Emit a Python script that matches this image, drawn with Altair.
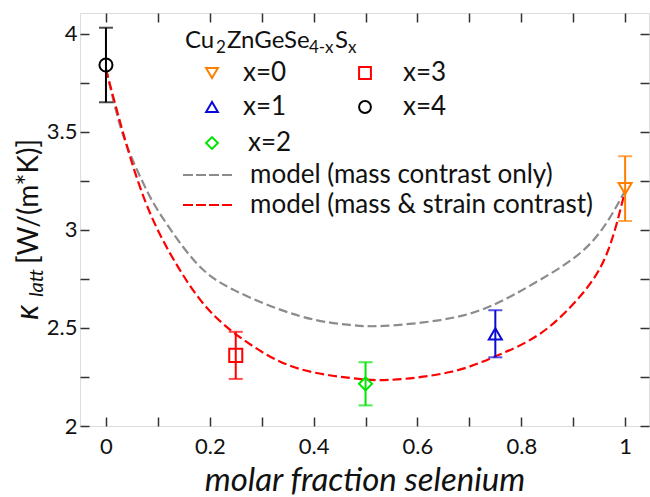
import altair as alt
import pandas as pd

# ---------------- data ----------------
samples = ["x=0", "x=1", "x=2", "x=3", "x=4"]
se_fraction = [1.0, 0.75, 0.5, 0.25, 0.0]
kappa = [3.21, 2.47, 2.215, 2.36, 3.84]
kappa_err = [0.165, 0.12, 0.11, 0.12, 0.19]
sample_colors = ["#FF8000", "#0A0AD8", "#00E600", "#FF0000", "#000000"]
sample_shapes = ["triangle-down", "triangle-up", "diamond", "square", "circle"]

mass_frac = [0.0, 0.02, 0.043, 0.075, 0.107, 0.171, 0.249, 0.374, 0.47, 0.534, 0.644, 0.74, 0.836, 0.933, 1.0]
mass_kappa = [3.82, 3.60, 3.41, 3.22, 3.07, 2.84, 2.69, 2.56, 2.515, 2.51, 2.54, 2.61, 2.745, 2.93, 3.20]
strain_frac = [0.0, 0.024, 0.075, 0.139, 0.204, 0.287, 0.374, 0.47, 0.547, 0.663, 0.75, 0.836, 0.913, 0.965, 1.0]
strain_kappa = [3.82, 3.58, 3.15, 2.81, 2.575, 2.40, 2.29, 2.245, 2.235, 2.275, 2.355, 2.47, 2.66, 2.88, 3.20]

x_ticks = [0.0, 0.1, 0.2, 0.3, 0.4, 0.5, 0.6, 0.7, 0.8, 0.9, 1.0]
y_ticks = [2.0, 2.25, 2.5, 2.75, 3.0, 3.25, 3.5, 3.75, 4.0]

mass_label = "model (mass contrast only)"
strain_label = "model (mass & strain contrast)"

# ---------------- layout / style ----------------
FONT = "Lato"
W, H = 569, 413
LEFT, TOP = 80, 13
FRAME = "#333333"

pts = pd.DataFrame({"frac": se_fraction, "kappa": kappa, "err": kappa_err, "sample": samples})
pts["lo"] = pts["kappa"] - pts["err"]
pts["hi"] = pts["kappa"] + pts["err"]
mass_df = pd.DataFrame({"frac": mass_frac, "kappa": mass_kappa})
strain_df = pd.DataFrame({"frac": strain_frac, "kappa": strain_kappa})

xscale = alt.Scale(domain=[-0.05, 1.046], nice=False, zero=False)
yscale = alt.Scale(domain=[2.0, 4.105], nice=False, zero=False)

tick_style = dict(tickSize=9, offset=-9, domain=False, tickColor=FRAME, tickWidth=1.5,
                  grid=False, labelOverlap=False, labelFlush=False, labelBound=False)

x_axis = alt.Axis(orient="bottom", values=x_ticks,
                  labelExpr="round(datum.value*10) % 2 == 0 ? format(datum.value, '~g') : ''",
                  labelFont=FONT, labelFontSize=22, labelColor="#111", labelPadding=10,
                  title="molar fraction selenium", titleFont=FONT, titleFontSize=33,
                  titleFontStyle="italic", titleFontWeight="normal", titleColor="#111",
                  titlePadding=7, **tick_style)
y_axis = alt.Axis(orient="left", values=y_ticks,
                  labelExpr="round(datum.value*4) % 2 == 0 ? format(datum.value, '~g') : ''",
                  labelFont=FONT, labelFontSize=22, labelColor="#111", labelPadding=3,
                  title=None, **tick_style)
x_top = alt.Axis(orient="top", values=x_ticks, labels=False, title=None, **tick_style)
y_right = alt.Axis(orient="right", values=y_ticks, labels=False, title=None, **tick_style)

X = lambda ax=None: alt.X("frac:Q", scale=xscale, axis=ax)
Y = lambda ax=None, f="kappa:Q": alt.Y(f, scale=yscale, axis=ax)

mirror = alt.Chart(mass_df).mark_line(opacity=0).encode(x=X(x_top), y=Y(y_right))

mass_line = alt.Chart(mass_df).mark_line(
    color="#8C8C8C", strokeWidth=2.2, strokeDash=[9, 4], interpolate="natural"
).encode(x=X(x_axis), y=Y(y_axis))

strain_line = alt.Chart(strain_df).mark_line(
    color="#FF0000", strokeWidth=2.2, strokeDash=[9, 4], interpolate="natural"
).encode(x=X(), y=Y())

color_enc = alt.Color("sample:N", scale=alt.Scale(domain=samples, range=sample_colors), legend=None)
shape_enc = alt.Shape("sample:N", scale=alt.Scale(domain=samples, range=sample_shapes), legend=None)

err_rule = alt.Chart(pts).mark_rule(strokeWidth=2).encode(
    x=X(), y=Y(f="lo:Q"), y2="hi:Q", color=color_enc)
cap_lo = alt.Chart(pts).mark_tick(orient="horizontal", size=14, thickness=2).encode(
    x=X(), y=Y(f="lo:Q"), color=color_enc)
cap_hi = alt.Chart(pts).mark_tick(orient="horizontal", size=14, thickness=2).encode(
    x=X(), y=Y(f="hi:Q"), color=color_enc)
points = alt.Chart(pts).mark_point(filled=False, size=170, strokeWidth=2, opacity=1).encode(
    x=X(), y=Y(), color=color_enc, shape=shape_enc)

# ---------------- hand-built legend (decoration) ----------------
def px(v):
    return v - LEFT

def py(v):
    return v - TOP

anchor = alt.Chart(pd.DataFrame({"a": [0]}))
deco = []

def text(s, x, y, size, style="normal", align="left", baseline="alphabetic", angle=0, color="#111"):
    kw = dict(text=s, font=FONT, fontSize=size, fontStyle=style, align=align,
              baseline=baseline, color=color)
    if angle:
        kw["angle"] = angle
    return anchor.mark_text(**kw).encode(x=alt.value(px(x)), y=alt.value(py(y)))

# legend title Cu2ZnGeSe(4-x)S(x)
for s, x, y, fs in [("Cu", 185, 48, 24), ("2", 216, 53, 17), ("ZnGeSe", 227, 48, 24),
                    ("4-x", 309, 53, 17), ("S", 335, 48, 24), ("x", 348, 53, 17)]:
    deco.append(text(s, x, y, fs))

row_y = [73, 107, 143]
sym_x = [212, 365]
lab_x = [243, 403]
for i, (lab, col, shp) in enumerate(zip(samples, sample_colors, sample_shapes)):
    r, c = i % 3, i // 3
    deco.append(anchor.mark_point(shape=shp, filled=False, size=140, strokeWidth=2,
                                  color=col, opacity=1).encode(
        x=alt.value(px(sym_x[c])), y=alt.value(py(row_y[r]))))
    extra = 5 if lab == "x=2" else 0
    deco.append(text(lab, lab_x[c] + extra, row_y[r], 26, baseline="middle"))

for lab, col, y in [(mass_label, "#8C8C8C", 175), (strain_label, "#FF0000", 205)]:
    deco.append(anchor.mark_rule(color=col, strokeWidth=2.2, strokeDash=[10, 3]).encode(
        x=alt.value(px(183)), x2=alt.value(px(234)), y=alt.value(py(y))))
    deco.append(text(lab, 250, y, 26, baseline="middle"))

# y-axis title: kappa_latt [W/(m*K)]
deco.append(text("κ", 38, 320, 32, style="italic", angle=270))
deco.append(text("latt", 43, 297, 20, style="italic", angle=270))
deco.append(text("[W/(m*K)]", 38, 264, 28, angle=270))

chart = alt.layer(
    mirror, mass_line, strain_line, err_rule, cap_lo, cap_hi, points, *deco
).resolve_axis(x="independent", y="independent").properties(
    width=W, height=H, autosize="none",
    padding={"left": LEFT, "top": TOP, "right": 650 - LEFT - W, "bottom": 497 - TOP - H},
).configure_view(stroke=FRAME, strokeWidth=1.5).configure(background="white")

chart.save("out.html", embed_options={"renderer": "svg", "actions": False})
